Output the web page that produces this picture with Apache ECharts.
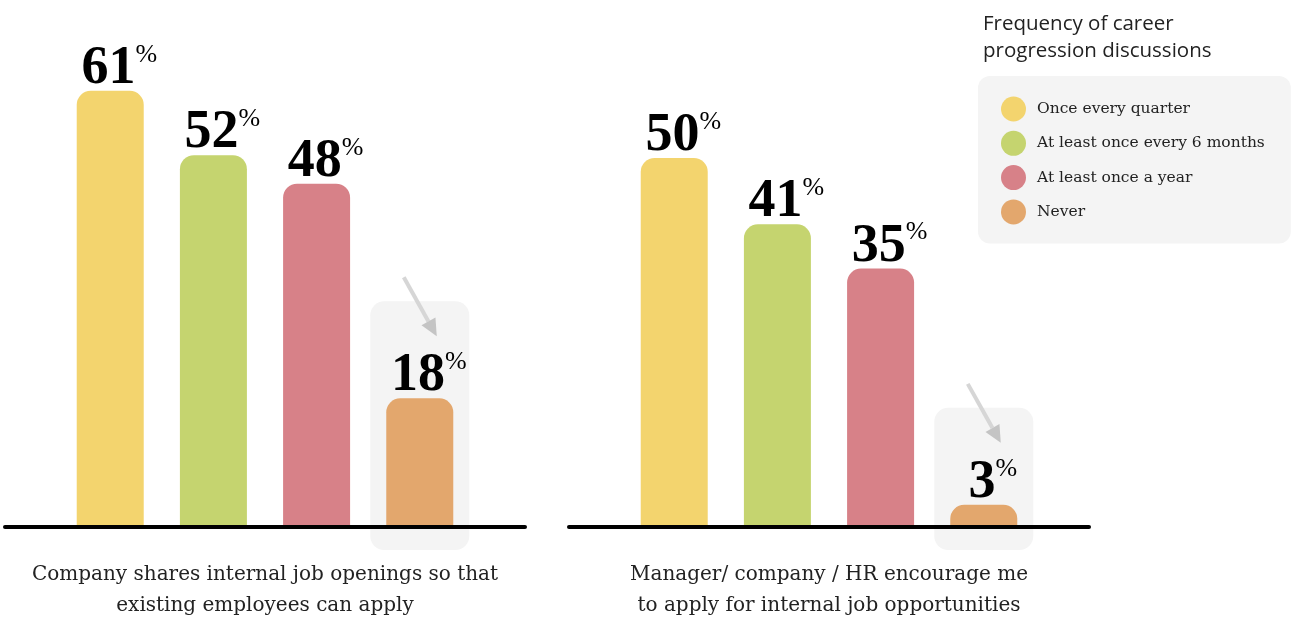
<!DOCTYPE html>
<html>
<head>
<meta charset="utf-8">
<script src="https://cdn.jsdelivr.net/npm/echarts@6/dist/echarts.min.js"></script>
<style>html,body{margin:0;padding:0;background:#fff;}#c{width:1292px;height:619px;}</style>
</head>
<body>
<div id="c"></div>
<script>
const groups = [
  'Company shares internal job openings so that\nexisting employees can apply',
  'Manager/ company / HR encourage me\nto apply for internal job opportunities'
];
const frequencies = ['Once every quarter', 'At least once every 6 months', 'At least once a year', 'Never'];
const onceQuarter = [61, 50];
const sixMonths = [52, 41];
const onceYear = [48, 35];
const never = [18, 3];
const colors = ['#F3D46E', '#C5D46F', '#D78188', '#E3A76D'];
const legendTitle = 'Frequency of career\nprogression discussions';

const seriesValues = [onceQuarter, sixMonths, onceYear, never];
const BAR_W = 67, BAR_GAP = 0.54;
const yMax = [70.2, 68.0];

const chart = echarts.init(document.getElementById('c'));
const grids = [
  {left: 5, width: 520, top: 25, bottom: 92, outerBoundsMode: 'none', containLabel: false},
  {left: 569, width: 520, top: 25, bottom: 92, outerBoundsMode: 'none', containLabel: false}
];
const xAxes = groups.map((g, i) => ({
  type: 'category', gridIndex: i, data: [g], z: 5,
  axisLine: {lineStyle: {color: '#000', width: 4}},
  axisTick: {show: false},
  axisLabel: {
    margin: 32, color: '#222', fontFamily: 'DejaVu Serif', fontSize: 20, lineHeight: 31,
    interval: 0
  }
}));
const yAxes = groups.map((g, i) => ({
  type: 'value', gridIndex: i, min: 0, max: yMax[i], show: false
}));

const series = [];
groups.forEach((g, gi) => {
  series.push({
    type: 'custom', xAxisIndex: gi, yAxisIndex: gi, z: 1, silent: true,
    data: [[0, never[gi]]],
    renderItem: function (params, api) {
      const top = api.coord([api.value(0), api.value(1)]);
      const base = api.coord([api.value(0), 0]);
      const cx = top[0] + 1.5 * BAR_W * (1 + BAR_GAP);
      const boxTop = top[1] - 97;
      const boxBottom = base[1] + 23;
      const sx = cx - 16, sy = boxTop - 24, ex = cx + 17, ey = boxTop + 35;
      const ang = Math.atan2(ey - sy, ex - sx);
      const hl = 17, hw = 8;
      const bx = ex - hl * Math.cos(ang), by = ey - hl * Math.sin(ang);
      return {
        type: 'group',
        children: [
          {type: 'rect', shape: {x: cx - 49.5, y: boxTop, width: 99, height: boxBottom - boxTop, r: 14},
            style: {fill: '#F4F4F4'}},
          {type: 'line', shape: {x1: sx, y1: sy, x2: bx, y2: by},
            style: {stroke: '#D6D6D6', lineWidth: 4}},
          {type: 'polygon', shape: {points: [[ex, ey],
            [bx + hw * Math.sin(ang), by - hw * Math.cos(ang)],
            [bx - hw * Math.sin(ang), by + hw * Math.cos(ang)]]},
            style: {fill: '#C4C4C4'}}
        ]
      };
    }
  });
  frequencies.forEach((f, si) => {
    series.push({
      type: 'bar', name: f, xAxisIndex: gi, yAxisIndex: gi, z: 2,
      barWidth: BAR_W, barGap: (BAR_GAP * 100) + '%',
      data: [seriesValues[si][gi]],
      itemStyle: {color: colors[si], borderRadius: [14, 14, 0, 0]},
      label: {
        show: true, position: 'top', distance: -5, offset: [9, 0],
        formatter: p => '{n|' + p.value + '}{p|%}',
        rich: {
          n: {fontFamily: 'Liberation Serif', fontWeight: 'bold', fontSize: 54, color: '#000', lineHeight: 54},
          p: {fontFamily: 'Liberation Serif', fontSize: 26, color: '#000', verticalAlign: 'top', lineHeight: 54, padding: [0, 0, 24, 0]}
        }
      }
    });
  });
});

chart.setOption({
  animation: false,
  backgroundColor: '#fff',
  title: {
    text: legendTitle, left: 978, top: 6,
    textStyle: {fontFamily: 'Open Sans', fontWeight: 'normal', fontSize: 20.5, lineHeight: 27, color: '#222'}
  },
  legend: {
    data: frequencies, orient: 'vertical', left: 978, top: 76,
    icon: 'circle', itemWidth: 25, itemHeight: 25, itemGap: 9.3,
    padding: [20.5, 26, 19, 23],
    backgroundColor: '#F4F4F4', borderRadius: 12,
    selectedMode: false,
    textStyle: {fontFamily: 'DejaVu Serif', fontSize: 15.5, color: '#222', padding: [0, 0, 0, 6]}
  },
  grid: grids,
  xAxis: xAxes,
  yAxis: yAxes,
  series: series
});
</script>
</body>
</html>
